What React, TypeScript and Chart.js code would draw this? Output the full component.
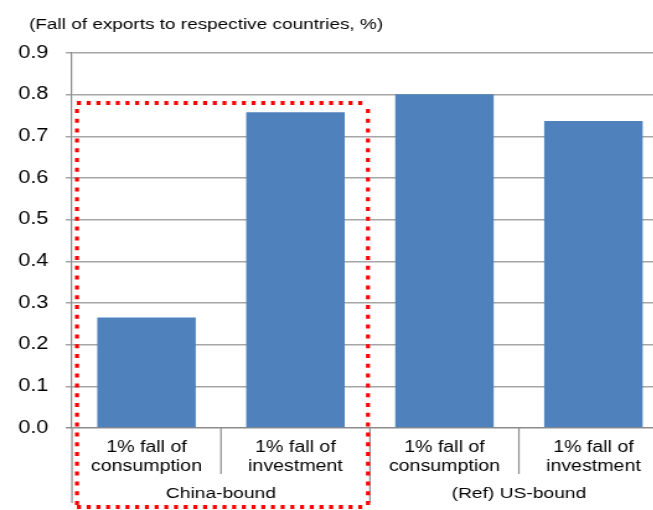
import React, { useEffect, useRef } from "react";
import { Chart, registerables } from "chart.js";

Chart.register(...registerables);

// ---- data ----
const categories: string[][] = [
  ["1% fall of", "consumption"],
  ["1% fall of", "investment"],
  ["1% fall of", "consumption"],
  ["1% fall of", "investment"],
];
const values: number[] = [0.265, 0.758, 0.801, 0.737];
const groupLabels: string[] = ["China-bound", "(Ref) US-bound"];
const groupSpans: number[][] = [
  [0, 1],
  [2, 3],
];
const yMin = 0;
const yMax = 0.9;
const yStep = 0.1;
const titleText = "(Fall of exports to respective countries, %)";
const highlightGroup = 0;
const highlightTopValue = 0.78;

// ---- look ----
const SX = 1.24; // horizontal stretch of the reference picture
const CANVAS_W = 542;
const CANVAS_H = 510;
const FONT = "Arial, 'Liberation Sans', sans-serif";
const BAR = "#4F81BD";
const GRID = "#A6A6A6";
const AXIS = "#8C8C8C";

const extrasPlugin = {
  id: "extras",
  afterDraw(chart: any) {
    const ctx = chart.ctx as CanvasRenderingContext2D;
    const xs = chart.scales.x;
    const ys = chart.scales.y;
    const ca = chart.chartArea;
    const half = (xs.getPixelForValue(1) - xs.getPixelForValue(0)) / 2;
    const edge = (i: number) => xs.getPixelForValue(i) - half; // left edge of category i
    const n = categories.length;

    ctx.save();
    // title
    ctx.fillStyle = "#000";
    ctx.font = `15.3px ${FONT}`;
    ctx.textAlign = "left";
    ctx.textBaseline = "alphabetic";
    ctx.fillText(titleText, 29 / SX, 29);

    // category dividers below axis
    ctx.strokeStyle = AXIS;
    ctx.lineWidth = 1.5 / SX;
    for (let i = 0; i <= n; i++) {
      const isGroupEdge = groupSpans.some((g) => g[0] === i || g[1] + 1 === i);
      const x = edge(i);
      ctx.beginPath();
      ctx.moveTo(x, ca.bottom);
      ctx.lineTo(x, isGroupEdge ? 503 : 474);
      ctx.stroke();
    }

    // group labels
    ctx.font = `15.5px ${FONT}`;
    ctx.textAlign = "center";
    ctx.fillStyle = "#000";
    groupSpans.forEach((g, gi) => {
      const cx = (edge(g[0]) + edge(g[1] + 1)) / 2;
      ctx.fillText(groupLabels[gi], cx, 498);
    });

    // red dotted highlight
    const hg = groupSpans[highlightGroup];
    const left = edge(hg[0]) + 5 / SX;
    const right = edge(hg[1] + 1) - 2 / SX;
    const top = ys.getPixelForValue(highlightTopValue);
    const bottom = chart.height - 3;
    ctx.strokeStyle = "#FF0000";
    // horizontal lines
    ctx.lineWidth = 4;
    ctx.setLineDash([4 / SX, 5.7 / SX]);
    ctx.beginPath();
    ctx.moveTo(left, top);
    ctx.lineTo(right, top);
    ctx.moveTo(left, bottom);
    ctx.lineTo(right, bottom);
    ctx.stroke();
    // vertical lines
    ctx.lineWidth = 4 / SX;
    ctx.setLineDash([4, 5.8]);
    ctx.beginPath();
    ctx.moveTo(left, top + 6);
    ctx.lineTo(left, bottom);
    ctx.moveTo(right, top + 6);
    ctx.lineTo(right, bottom);
    ctx.stroke();
    ctx.restore();
  },
};

export default function App() {
  const ref = useRef<HTMLCanvasElement | null>(null);

  useEffect(() => {
    const canvas = ref.current!;
    canvas.width = CANVAS_W;
    canvas.height = CANVAS_H;
    canvas.style.width = `${CANVAS_W * SX}px`;
    canvas.style.height = `${CANVAS_H}px`;
    const chart = new Chart(canvas, {
      type: "bar",
      data: {
        labels: categories,
        datasets: [
          {
            data: values,
            backgroundColor: BAR,
            borderWidth: 0,
            barPercentage: 0.661,
            categoryPercentage: 1,
          },
        ],
      },
      options: {
        responsive: false,
        animation: false,
        devicePixelRatio: 1,
        layout: { padding: { top: 53, left: 0, right: 3.3, bottom: 0 } },
        plugins: {
          legend: { display: false },
          tooltip: { enabled: false },
          title: { display: false },
        },
        scales: {
          x: {
            grid: { display: false },
            border: { display: false },
            ticks: {
              color: "#000",
              font: { family: FONT, size: 15.8, lineHeight: 1.2 },
              padding: 2,
              maxRotation: 0,
              autoSkip: false,
            },
            afterFit: (s: any) => {
              s.height = 82;
            },
          },
          y: {
            min: yMin,
            max: yMax,
            grid: {
              color: (c: any) => (c.tick && c.tick.value === 0 ? AXIS : GRID),
              lineWidth: 1.5,
              tickLength: 5,
              drawTicks: true,
            },
            border: { display: true, color: AXIS, width: 1.5 / SX },
            ticks: {
              stepSize: yStep,
              color: "#000",
              font: { family: FONT, size: 17.5 },
              padding: 14,
              callback: (v: any) => Number(v).toFixed(1),
            },
            afterFit: (s: any) => {
              s.width = 72 / SX;
            },
          },
        },
      },
      plugins: [extrasPlugin],
    });
    return () => chart.destroy();
  }, []);

  return (
    <div
      style={{
        position: "fixed",
        left: 0,
        top: 0,
        width: 653,
        height: 510,
        overflow: "hidden",
        background: "#fff",
      }}
    >
      <canvas ref={ref} style={{ display: "block" }} />
    </div>
  );
}
